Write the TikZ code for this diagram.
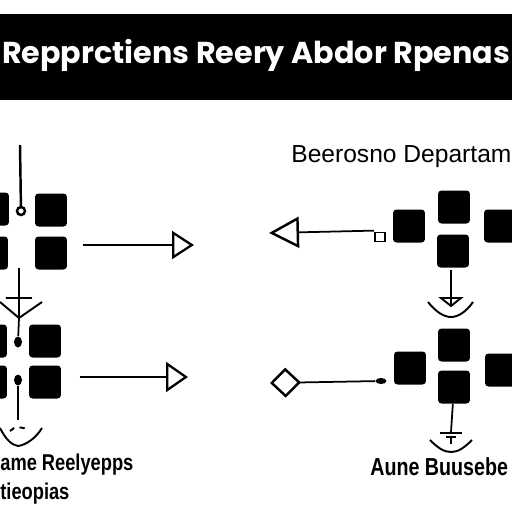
\documentclass[tikz,border=0pt]{standalone}
\usepackage{fontspec}
\setsansfont{Liberation Sans}
\newfontfamily\titlefont{Poppins}
\newfontfamily\narrowfont[FakeStretch=0.8]{Liberation Sans}
\usetikzlibrary{arrows.meta, positioning, shapes.geometric}
\tikzset{every picture/.style={/utils/exec={\sffamily}}}

\begin{document}
\begin{tikzpicture} [
			x=0.02cm, y=-0.02cm,
			blk/.style={draw=none,fill=black,rounded corners=2pt,minimum width=0.64cm,minimum height=0.66cm,inner sep=0},
			pin/.style={draw,line width=1.4pt,circle,inner sep=0,minimum size=0.16cm},
			dot/.style={fill=black,ellipse,inner sep=0,minimum width=0.16cm,minimum height=0.22cm},
			wire/.style={draw,line width=1pt},
			sym/.style={line width=1.1pt},
			legend/.style={draw=none,fill=none,align=left,inner sep=0}
		]
			\useasboundingbox (0,0) rectangle (512,512);
			% title bar
			\node at (256,57) [fill=black,minimum width=10.24cm,minimum height=1.72cm,inner sep=0] (nodeTitle) {};
			\node at (256,55) [legend,text=white,font=\titlefont\bfseries\fontsize{17.2}{20}\selectfont] (legTitle) {Repprctiens Reery Abdor Rpenas};

			% left group, top
			\node at (-7,209) [blk] (blkLA) {};
			\node at (51,210) [blk] (blkLB) {};
			\node at (-8,253) [blk] (blkLC) {};
			\node at (51,253) [blk] (blkLD) {};
			\node at (21,211) [pin] (pinLA) {};
			\coordinate (topLA) at (20,145);
			\path[wire,line width=1.4pt] (topLA) -- (pinLA);
			\coordinate (outLA) at (83,245);
			\coordinate (tipLA) at (194,245);
			\path[-{Triangle[open,length=0.44cm,width=0.56cm,line width=1.3pt]}, line width=1pt] (outLA) edge (tipLA);

			% left group, funnel
			\coordinate (midLA) at (19,268);
			\coordinate (midLB) at (19,318);
			\path[wire] (midLA) -- (midLB);
			\draw[sym] (6,298) -- (32,298) (0,302) -- (midLB) -- (42,302);

			% left group, bottom
			\node at (-9,341) [blk] (blkLE) {};
			\node at (45,341) [blk] (blkLF) {};
			\node at (-9,382) [blk] (blkLG) {};
			\node at (45,382) [blk] (blkLH) {};
			\node at (18,342) [dot] (dotLA) {};
			\node at (18,380) [dot] (dotLB) {};
			\path[wire] (midLB) -- (dotLA);
			\coordinate (botLA) at (18,420);
			\path[wire] (dotLB) -- (botLA);
			\draw[sym] (0,428) .. controls (6,440) and (12,445) .. (18,446) .. controls (26,445) and (36,438) .. (42,428);
			\draw[sym,dashed] (10,431) .. controls (14,426) and (24,426) .. (28,431);
			\coordinate (outLB) at (80,377);
			\coordinate (tipLB) at (188,377);
			\path[-{Triangle[open,length=0.44cm,width=0.6cm,line width=1.3pt]}, line width=1pt] (outLB) edge (tipLB);
			\node at (0,465) [legend,anchor=west,font=\narrowfont\bfseries\fontsize{13}{15}\selectfont] (legLA) {ame Reelyepps};
			\node at (0,494) [legend,anchor=west,font=\narrowfont\bfseries\fontsize{13}{15}\selectfont] (legLB) {tieopias};

			% right group, top
			\node at (291,157) [legend,anchor=west,font=\fontsize{14}{16}\selectfont] (legRA) {Beerosno Departam};
			\node at (409,226) [blk] (blkRA) {};
			\node at (454,207) [blk] (blkRB) {};
			\node at (453,251) [blk] (blkRC) {};
			\node at (500,226) [blk] (blkRD) {};
			\node at (380,237) [draw,line width=1pt,inner sep=0,minimum width=0.2cm,minimum height=0.18cm] (endRA) {};
			\coordinate (tipRA) at (269,233);
			\path[-{Triangle[open,length=0.6cm,width=0.62cm,line width=1.4pt]}, line width=1pt] (endRA.north west) ++(0,-1) edge (tipRA);
			\coordinate (midRA) at (451,270);
			\coordinate (midRB) at (451,306);
			\path[wire] (midRA) -- (midRB);
			\draw[sym] (441,298) -- (461,298) -- (midRB) -- cycle;
			\draw[sym] (428,302) .. controls (436,312) and (444,317) .. (451,317) .. controls (458,317) and (466,312) .. (473,302);

			% right group, bottom
			\node at (410,368) [blk] (blkRE) {};
			\node at (454,345) [blk] (blkRF) {};
			\node at (454,387) [blk] (blkRG) {};
			\node at (501,370) [blk] (blkRH) {};
			\node at (381,381) [dot,minimum width=0.22cm,minimum height=0.12cm] (endRB) {};
			\coordinate (tipRB) at (270,383);
			\path[-{Diamond[open,length=0.62cm,width=0.6cm,line width=1.4pt]}, line width=1pt] (endRB) edge (tipRB);
			\coordinate (midRC) at (451,432);
			\path[wire] (blkRG) -- (midRC);
			\draw[sym] (440,433) -- (462,433) (446,437) -- (456,437) (451,437) -- (451,444);
			\draw[sym] (430,440) .. controls (438,448) and (444,452) .. (451,452) .. controls (458,452) and (464,448) .. (472,440);
			\node at (370,467) [legend,anchor=west,font=\narrowfont\bfseries\fontsize{14}{16}\selectfont] (legRB) {Aune Buusebe};
		\end{tikzpicture}
\end{document}
